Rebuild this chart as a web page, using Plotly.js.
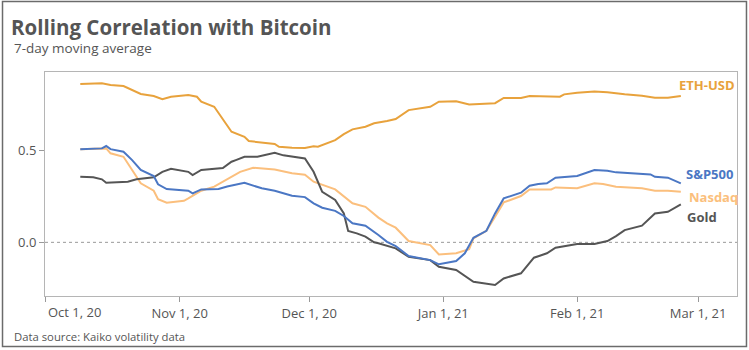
<!DOCTYPE html>
<html>
<head>
<meta charset="utf-8">
<script src="https://cdn.plot.ly/plotly-3.0.1.min.js"></script>
<style>
  html, body { margin: 0; padding: 0; background: #fff; }
  #chart { width: 749px; height: 350px; }
</style>
</head>
<body>
<div id="chart"></div>
<script>
// ---- Data ----
var ethDates = ['2020-10-09','2020-10-14','2020-10-16','2020-10-19','2020-10-23','2020-10-26','2020-10-28','2020-10-30','2020-11-03','2020-11-05','2020-11-06','2020-11-09','2020-11-13','2020-11-16','2020-11-17','2020-11-21','2020-11-23','2020-11-24','2020-11-27','2020-11-30','2020-12-02','2020-12-03','2020-12-05','2020-12-07','2020-12-09','2020-12-11','2020-12-14','2020-12-16','2020-12-19','2020-12-21','2020-12-24','2020-12-29','2020-12-31','2021-01-04','2021-01-07','2021-01-13','2021-01-15','2021-01-19','2021-01-21','2021-01-28','2021-01-29','2021-02-01','2021-02-05','2021-02-08','2021-02-12','2021-02-16','2021-02-19','2021-02-22','2021-02-25'];
var ethValues = [0.864,0.868,0.859,0.853,0.810,0.799,0.782,0.795,0.804,0.795,0.768,0.740,0.604,0.576,0.553,0.544,0.537,0.522,0.516,0.515,0.524,0.522,0.540,0.558,0.591,0.617,0.631,0.650,0.662,0.673,0.722,0.740,0.768,0.770,0.753,0.760,0.788,0.788,0.799,0.795,0.808,0.817,0.824,0.819,0.808,0.800,0.789,0.789,0.799];

var spDates = ['2020-10-09','2020-10-14','2020-10-15','2020-10-16','2020-10-19','2020-10-21','2020-10-23','2020-10-26','2020-10-27','2020-10-29','2020-11-03','2020-11-04','2020-11-06','2020-11-10','2020-11-12','2020-11-16','2020-11-20','2020-11-23','2020-11-27','2020-11-30','2020-12-02','2020-12-04','2020-12-07','2020-12-09','2020-12-11','2020-12-14','2020-12-17','2020-12-19','2020-12-21','2020-12-24','2020-12-29','2020-12-31','2021-01-04','2021-01-06','2021-01-08','2021-01-11','2021-01-13','2021-01-15','2021-01-19','2021-01-21','2021-01-23','2021-01-25','2021-01-27','2021-02-01','2021-02-05','2021-02-08','2021-02-10','2021-02-14','2021-02-18','2021-02-19','2021-02-22','2021-02-25'];
var spValues = [0.508,0.513,0.526,0.509,0.495,0.449,0.395,0.362,0.317,0.291,0.282,0.267,0.289,0.291,0.305,0.325,0.295,0.282,0.254,0.247,0.213,0.189,0.172,0.144,0.104,0.091,0.040,0.003,-0.020,-0.075,-0.097,-0.120,-0.102,-0.060,0.025,0.063,0.158,0.240,0.271,0.309,0.318,0.322,0.353,0.362,0.395,0.391,0.382,0.377,0.371,0.358,0.353,0.322];

var nasdaqDates = ['2020-10-09','2020-10-14','2020-10-15','2020-10-16','2020-10-19','2020-10-21','2020-10-23','2020-10-26','2020-10-27','2020-10-29','2020-11-02','2020-11-03','2020-11-06','2020-11-09','2020-11-12','2020-11-13','2020-11-15','2020-11-18','2020-11-23','2020-11-27','2020-11-30','2020-12-02','2020-12-05','2020-12-07','2020-12-11','2020-12-14','2020-12-17','2020-12-19','2020-12-21','2020-12-24','2020-12-29','2020-12-31','2021-01-04','2021-01-07','2021-01-08','2021-01-11','2021-01-13','2021-01-15','2021-01-19','2021-01-21','2021-01-26','2021-01-27','2021-02-01','2021-02-05','2021-02-07','2021-02-10','2021-02-16','2021-02-19','2021-02-22','2021-02-25'];
var nasdaqValues = [0.508,0.513,0.513,0.486,0.467,0.395,0.322,0.282,0.235,0.216,0.227,0.240,0.282,0.304,0.344,0.360,0.385,0.407,0.398,0.377,0.369,0.331,0.307,0.289,0.213,0.194,0.135,0.104,0.080,0.007,-0.015,-0.066,-0.060,-0.037,0.022,0.063,0.140,0.218,0.253,0.289,0.289,0.300,0.295,0.322,0.318,0.304,0.295,0.282,0.282,0.276];

var goldDates = ['2020-10-09','2020-10-12','2020-10-14','2020-10-15','2020-10-20','2020-10-22','2020-10-26','2020-10-28','2020-10-30','2020-11-03','2020-11-04','2020-11-06','2020-11-11','2020-11-13','2020-11-14','2020-11-16','2020-11-19','2020-11-21','2020-11-23','2020-11-25','2020-11-28','2020-11-30','2020-12-02','2020-12-04','2020-12-07','2020-12-09','2020-12-10','2020-12-12','2020-12-14','2020-12-16','2020-12-17','2020-12-19','2020-12-21','2020-12-24','2020-12-29','2020-12-31','2021-01-04','2021-01-08','2021-01-11','2021-01-13','2021-01-15','2021-01-19','2021-01-22','2021-01-23','2021-01-25','2021-01-27','2021-02-01','2021-02-05','2021-02-08','2021-02-10','2021-02-12','2021-02-16','2021-02-19','2021-02-22','2021-02-25'];
var goldValues = [0.358,0.355,0.344,0.325,0.331,0.344,0.355,0.385,0.402,0.385,0.367,0.395,0.406,0.440,0.449,0.467,0.467,0.480,0.489,0.475,0.467,0.458,0.385,0.276,0.231,0.158,0.062,0.049,0.031,0.000,-0.005,-0.020,-0.033,-0.079,-0.097,-0.133,-0.151,-0.215,-0.224,-0.233,-0.197,-0.169,-0.084,-0.075,-0.060,-0.029,-0.009,-0.009,0.007,0.034,0.067,0.091,0.158,0.167,0.207];

var seriesNames = ['ETH-USD','S&P500','Nasdaq','Gold'];
var seriesColors = ['#e8a23c','#4b77c4','#fbbf7d','#555555'];
var xTickVals = ['2020-10-01','2020-11-01','2020-12-01','2021-01-01','2021-02-01','2021-03-01'];
var xTickText = ['Oct 1, 20','Nov 1, 20','Dec 1, 20','Jan 1, 21','Feb 1, 21','Mar 1, 21'];
var yTickVals = [0, 0.5];
var yTickText = ['0.0','0.5'];

var FONT = 'Open Sans, sans-serif';
var allDates = [ethDates, spDates, nasdaqDates, goldDates];
var allValues = [ethValues, spValues, nasdaqValues, goldValues];

var traces = seriesNames.map(function (name, i) {
  return {
    type: 'scatter', mode: 'lines', name: name,
    x: allDates[i], y: allValues[i],
    line: { color: seriesColors[i], width: 2 },
    hoverinfo: 'x+y+name'
  };
});
traces = [traces[2], traces[3], traces[1], traces[0]];

// the first date label sits to the right of its tick (kept inside the frame)
var axisTickText = xTickText.map(function (t, i) { return i === 0 ? '' : t; });

var labelPos = [
  { x: 0.9133, y: 0.942 },
  { x: 0.9234, y: 0.5446 },
  { x: 0.9277, y: 0.442 },
  { x: 0.9249, y: 0.3527 }
];

var annotations = seriesNames.map(function (name, i) {
  return {
    xref: 'paper', yref: 'paper', x: labelPos[i].x, y: labelPos[i].y,
    xanchor: 'left', yanchor: 'middle', showarrow: false,
    text: '<b>' + name.replace('&', '&amp;') + '</b>',
    font: { family: FONT, size: 13, color: seriesColors[i] }
  };
});
annotations.push({
  xref: 'x', yref: 'paper', x: xTickVals[0], y: 0,
  xanchor: 'left', yanchor: 'middle', yshift: -16, showarrow: false,
  text: xTickText[0],
  font: { family: FONT, size: 13, color: '#555555' }
});
annotations.push({
  xref: 'paper', yref: 'paper', x: -0.0477, y: 1.106,
  xanchor: 'left', yanchor: 'middle', showarrow: false,
  text: '7-day moving average',
  font: { family: FONT, size: 13.5, color: '#555555' }
});
annotations.push({
  xref: 'paper', yref: 'paper', x: -0.0477, y: -0.1786,
  xanchor: 'left', yanchor: 'middle', showarrow: false,
  text: 'Data source: Kaiko volatility data',
  font: { family: FONT, size: 11.3, color: '#555555' }
});

var layout = {
  width: 749, height: 350,
  margin: { l: 45, r: 12, t: 72, b: 54 },
  paper_bgcolor: '#ffffff', plot_bgcolor: '#ffffff',
  showlegend: false,
  title: {
    text: '<b>Rolling Correlation with Bitcoin</b>',
    font: { family: FONT, size: 20.5, color: '#555555' },
    xref: 'container', yref: 'container',
    x: 11 / 749, xanchor: 'left', y: 1 - 27.5 / 350, yanchor: 'middle'
  },
  xaxis: {
    type: 'date',
    range: ['2020-09-30 20:00', '2021-03-10'],
    tickvals: xTickVals, ticktext: axisTickText,
    ticks: 'outside', ticklen: 5, tickcolor: '#999999', tickwidth: 1,
    showline: true, linecolor: '#b5b5b5', linewidth: 1, mirror: true,
    showgrid: false, zeroline: false,
    tickfont: { family: FONT, size: 13, color: '#555555' }
  },
  yaxis: {
    range: [-0.293, 0.93],
    tickvals: yTickVals, ticktext: yTickText,
    ticks: 'outside', ticklen: 5, tickcolor: '#999999', tickwidth: 1,
    showline: true, linecolor: '#b5b5b5', linewidth: 1, mirror: true,
    showgrid: false, zeroline: false,
    tickfont: { family: FONT, size: 13, color: '#555555' }
  },
  shapes: [
    { type: 'line', xref: 'paper', yref: 'y', x0: 0, x1: 1, y0: 0, y1: 0,
      line: { color: '#999999', width: 1, dash: 'dot' }, layer: 'below' },
    { type: 'rect', xref: 'paper', yref: 'paper',
      x0: -0.0614, x1: 1.0137, y0: -0.2254, y1: 1.3147,
      line: { color: '#6b6b6b', width: 1.5 }, fillcolor: 'rgba(0,0,0,0)' }
  ],
  annotations: annotations
};

Plotly.newPlot('chart', traces, layout, { displayModeBar: false });
</script>
</body>
</html>
